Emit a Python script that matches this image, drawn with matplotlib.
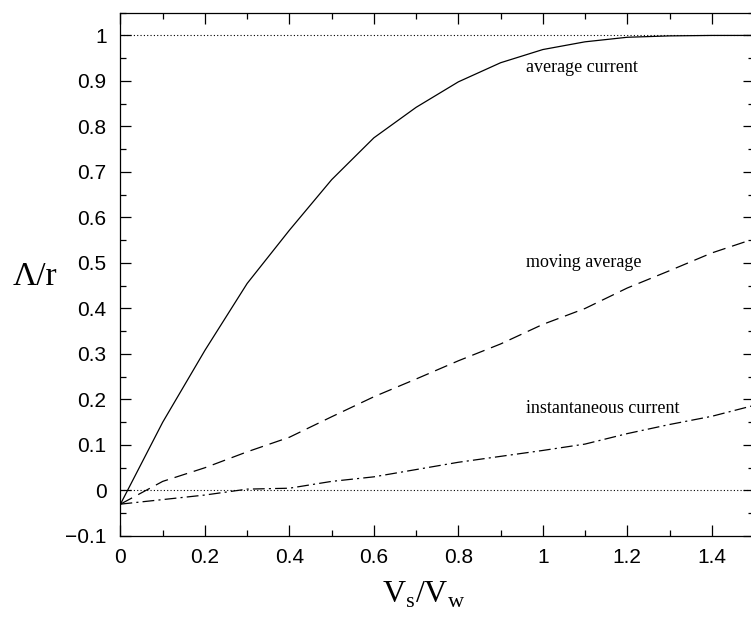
import matplotlib
matplotlib.use("Agg")
import matplotlib.pyplot as plt
from matplotlib.ticker import MultipleLocator

# ratio V_s / V_w
vs_vw = [0.0, 0.1, 0.2, 0.3, 0.4, 0.5, 0.6, 0.7, 0.8, 0.9, 1.0, 1.1, 1.2, 1.3, 1.4, 1.5]

average_current = [-0.03, 0.15, 0.308, 0.455, 0.572, 0.683, 0.775, 0.842, 0.898, 0.94,
                   0.969, 0.986, 0.996, 0.999, 1.0, 1.0]
moving_average = [-0.03, 0.02, 0.05, 0.085, 0.117, 0.162, 0.206, 0.245, 0.285, 0.322,
                  0.365, 0.4, 0.445, 0.483, 0.522, 0.553]
instantaneous_current = [-0.03, -0.02, -0.01, 0.003, 0.005, 0.02, 0.03, 0.046, 0.062, 0.075,
                         0.088, 0.102, 0.125, 0.145, 0.163, 0.187]

x_ticks = [0, 0.2, 0.4, 0.6, 0.8, 1.0, 1.2, 1.4]
x_ticklabels = ['0', '0.2', '0.4', '0.6', '0.8', '1', '1.2', '1.4']
y_ticks = [-0.1, 0, 0.1, 0.2, 0.3, 0.4, 0.5, 0.6, 0.7, 0.8, 0.9, 1.0]
y_ticklabels = ['\u22120.1', '0', '0.1', '0.2', '0.3', '0.4', '0.5', '0.6', '0.7', '0.8', '0.9', '1']

plt.rcParams['lines.scale_dashes'] = False
plt.rcParams['mathtext.fontset'] = 'custom'
plt.rcParams['mathtext.rm'] = 'Liberation Serif'

fig = plt.figure(figsize=(7.51, 6.19), dpi=100)
ax = fig.add_axes([0.1604, 0.1341, 1.004 - 0.1604, 0.9795 - 0.1341])

ax.axhline(1.0, color='black', lw=0.8, dashes=(0.8, 1.6))
ax.axhline(0.0, color='black', lw=0.8, dashes=(0.8, 1.6))

ax.plot(vs_vw, average_current, color='black', lw=0.9)
ax.plot(vs_vw, moving_average, color='black', lw=0.9, dashes=(9.5, 5))
ax.plot(vs_vw, instantaneous_current, color='black', lw=0.9, dashes=(8.5, 3, 1.5, 3))

serif = ['Liberation Serif', 'DejaVu Serif']
ax.text(0.96, 0.93, 'average current', family=serif, fontsize=13, va='center')
ax.text(0.96, 0.50, 'moving average', family=serif, fontsize=13, va='center')
ax.text(0.96, 0.181, 'instantaneous current', family=serif, fontsize=13, va='center')

ax.set_xlim(0, 1.5)
ax.set_ylim(-0.1, 1.05)
ax.xaxis.set_minor_locator(MultipleLocator(0.1))
ax.yaxis.set_minor_locator(MultipleLocator(0.05))
ax.set_xticks(x_ticks)
ax.set_xticklabels(x_ticklabels)
ax.set_yticks(y_ticks)
ax.set_yticklabels(y_ticklabels)

ax.tick_params(which='both', direction='in', top=True, right=True, width=0.9)
ax.tick_params(which='major', length=8, labelsize=15)
ax.tick_params(axis='y', which='major', pad=10)
ax.tick_params(axis='x', which='major', pad=9)
ax.tick_params(which='minor', length=4)
for lab in ax.get_xticklabels() + ax.get_yticklabels():
    lab.set_family(['Liberation Sans', 'DejaVu Sans'])
for s in ax.spines.values():
    s.set_linewidth(0.9)

ax.set_xlabel(r'V$_{\mathregular{s}}$/V$_{\mathregular{w}}$', family=serif, fontsize=23)
ax.xaxis.set_label_coords(0.478, -0.083)
ax.set_ylabel('\u039b/r', family=serif, fontsize=24, rotation=0, va='center', ha='left')
ax.yaxis.set_label_coords(-0.17, 0.495)

fig.savefig('out.png', dpi=100)
